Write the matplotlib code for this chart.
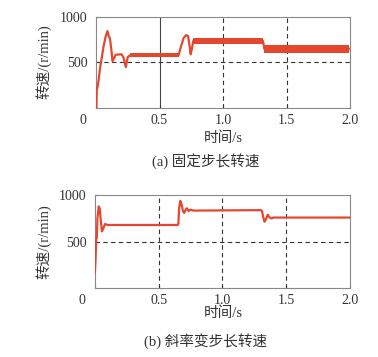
import matplotlib
matplotlib.use("Agg")
from matplotlib import pyplot as plt
from matplotlib import transforms

FONT = ["Liberation Serif", "Noto Sans CJK SC"]
plt.rcParams["font.family"] = FONT
RED = "#e5472e"

# (a) fixed step speed
t_a = [0.0, 0.003, 0.006, 0.012, 0.02, 0.03, 0.045, 0.06, 0.075, 0.09, 0.1, 0.11,
       0.12, 0.13, 0.14, 0.155, 0.2, 0.215, 0.235, 0.25, 0.27, 0.65, 0.67, 0.69,
       0.71, 0.725, 0.735, 0.745, 0.755, 0.765, 1.315, 1.325, 1.99]
v_a = [0, 0, 200, 230, 300, 420, 550, 680, 780, 845, 790, 760,
       650, 515, 540, 585, 590, 560, 450, 560, 580, 580, 680, 770,
       800, 790, 700, 590, 650, 735, 735, 650, 650]
# ripple envelopes of the noisy parts of (a)
band1_t, band1_lo, band1_hi = [0.27, 0.65], [555, 555], [605, 605]
band2_t, band2_lo, band2_hi = [0.765, 1.315], [698, 698], [770, 770]
band3_t, band3_lo, band3_hi = [1.325, 1.99], [608, 608], [695, 695]

# (b) variable slope step speed
t_b = [0.0, 0.005, 0.01, 0.015, 0.02, 0.03, 0.038, 0.045, 0.055, 0.065, 0.08, 0.1,
       0.65, 0.655, 0.66, 0.67, 0.68, 0.69, 0.7, 0.71, 0.72, 0.735, 0.75, 0.77,
       1.3, 1.31, 1.32, 1.33, 1.34, 1.355, 1.37, 1.385, 1.4, 2.0]
v_b = [170, 300, 520, 540, 750, 880, 860, 750, 610, 640, 690, 680,
       680, 700, 860, 940, 900, 830, 810, 840, 860, 830, 845, 835,
       840, 830, 760, 715, 740, 790, 760, 750, 760, 760]

xticks = [0, 0.5, 1.0, 1.5, 2.0]
xticklabels = ["0", "0.5", "1.0", "1.5", "2.0"]
yticks = [500, 1000]
yticklabels = ["500", "1000"]
TXT = "#333333"


def style_axes(ax, solid_half):
    ax.set_xlim(0, 2.0)
    ax.set_ylim(0, 1000)
    ax.set_xticks(xticks)
    ax.set_xticklabels(xticklabels)
    ax.set_yticks(yticks)
    ax.set_yticklabels(yticklabels)
    ax.tick_params(length=2, direction="in", labelsize=10, colors=TXT)
    ax.tick_params(axis="x", pad=4)
    ax.tick_params(axis="y", pad=6)
    for sp in ax.spines.values():
        sp.set_color("#888888")
        sp.set_linewidth(0.8)
    for x in [0.5, 1.0, 1.5]:
        if solid_half and x == 0.5:
            ax.axvline(x, color="#444444", lw=0.8, zorder=1)
        else:
            ax.axvline(x, color="#333333", lw=0.8, ls=(0, (4, 3)), zorder=1)
    ax.axhline(500, color="#333333", lw=0.8, ls=(0, (4, 3)), zorder=1)
    lab0 = ax.get_xticklabels()[0]
    lab0.set_transform(lab0.get_transform() +
                       transforms.ScaledTranslation(-13 / 100, 0, ax.figure.dpi_scale_trans))


fig = plt.figure(figsize=(3.78, 3.57), dpi=100)
ax1 = fig.add_axes([0.254, 0.6975, 0.672, 0.255])
ax2 = fig.add_axes([0.251, 0.193, 0.675, 0.26])

style_axes(ax1, True)
for bt, lo, hi in [(band1_t, band1_lo, band1_hi), (band2_t, band2_lo, band2_hi),
                   (band3_t, band3_lo, band3_hi)]:
    ax1.fill_between(bt, lo, hi, color=RED, lw=0, zorder=2)
ax1.plot(t_a, v_a, color=RED, lw=1.6, zorder=3)

style_axes(ax2, False)
ax2.plot(t_b, v_b, color=RED, lw=1.6, zorder=3)

fig.text(0.114, 0.828, "转速/(r/min)", rotation=90, ha="center", va="center", fontsize=10.5, color=TXT)
fig.text(0.114, 0.322, "转速/(r/min)", rotation=90, ha="center", va="center", fontsize=10.5, color=TXT)
fig.text(0.59, 0.614, "时间/s", ha="center", va="center", fontsize=10.5, color=TXT)
fig.text(0.59, 0.124, "时间/s", ha="center", va="center", fontsize=10.5, color=TXT)
fig.text(0.545, 0.55, "(a) 固定步长转速", ha="center", va="center", fontsize=10.5, color=TXT)
fig.text(0.545, 0.046, "(b) 斜率变步长转速", ha="center", va="center", fontsize=10.5, color=TXT)

fig.savefig("out.png", dpi=100)
